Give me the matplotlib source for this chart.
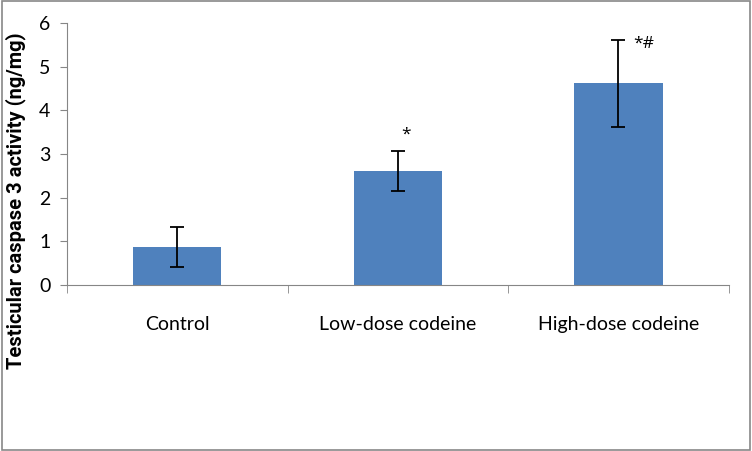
import matplotlib.pyplot as plt
import numpy as np
from matplotlib.patches import Rectangle

groups = ['Control', 'Low-dose codeine', 'High-dose codeine']
means = [0.87, 2.62, 4.62]
errs = [0.45, 0.46, 1.0]
marks = ['', '*', '*#']

plt.rcParams['font.family'] = ['Lato', 'DejaVu Sans']

fig = plt.figure(figsize=(7.52, 4.51), dpi=100)
ax = fig.add_axes([0.089, 0.368, 0.880, 0.581])

x = np.arange(len(groups))
ax.bar(x, means, width=0.4, color='#4F81BD', zorder=2)
ax.errorbar(x, means, yerr=errs, fmt='none', ecolor='black', elinewidth=1.3,
            capsize=5, capthick=1.3, zorder=3)

# significance marks: offsets in points from the error-bar top
offsets = [(6, 6), (6, 6), (18, -9)]
for xi, m, e, s, off in zip(x, means, errs, marks, offsets):
    ax.annotate(s, (xi, m + e), xytext=off, textcoords='offset points',
                ha='center', va='bottom', fontsize=12.5,
                family=['Open Sans', 'DejaVu Sans'])

ax.set_xlim(-0.5, 2.5)
ax.set_ylim(0, 6)
ax.set_yticks(range(7))
ax.set_xticks(x)
ax.set_xticklabels(groups, fontsize=14)
ax.set_xticks([-0.5, 0.5, 1.5, 2.5], minor=True)
ax.tick_params(axis='x', which='major', length=0, pad=22)
ax.tick_params(axis='x', which='minor', length=6, color='#868686')
ax.tick_params(axis='y', length=5, color='#868686', labelsize=14, pad=7)
for sp in ['top', 'right']:
    ax.spines[sp].set_visible(False)
for sp in ['left', 'bottom']:
    ax.spines[sp].set_color('#868686')
ax.set_ylabel('Testicular caspase 3 activity (ng/mg)', fontsize=14.5,
              fontweight='bold', family=['Roboto', 'DejaVu Sans'])
ax.yaxis.set_label_coords(-0.062, 0.32)

fig.patches.append(Rectangle((0.002, 0.002), 0.996, 0.996, transform=fig.transFigure,
                             fill=False, edgecolor='#888888', linewidth=1.2))

fig.savefig('out.png', dpi=100)
